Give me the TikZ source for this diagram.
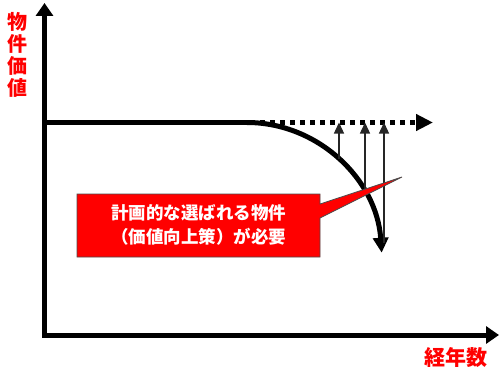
\documentclass[tikz,border=0pt]{standalone}
\usepackage{fontspec}
\newfontfamily\cjk{Noto Sans CJK JP}
\usetikzlibrary{arrows.meta}
\definecolor{calloutred}{HTML}{FF0000}
\tikzset{
  axis/.style={line width=5, -{Triangle[width=17,length=13]}},
  thick line/.style={line width=5},
  thin arrow/.style={line width=1.3, black!85, -{Triangle[width=10,length=11]}},
  label red/.style={text=calloutred, font=\cjk\bfseries},
}
\begin{document}
\begin{tikzpicture}[x=1pt,y=-1pt]
\useasboundingbox (0,0) rectangle (500,369);
% coordinates
\coordinate (o) at (44.5,335);
\coordinate (ytop) at (44.5,3);
\coordinate (xend) at (499,335);
\coordinate (p0) at (42,122.5);
\coordinate (p1) at (247,122.5);
\coordinate (dend) at (433,122.5);
% axes
\draw[axis] (44.5,337.5) -- (ytop);
\draw[axis] (42,335) -- (xend);
% plateau
\draw[thick line] (p0) -- (p1);
\draw[line width=5, dash pattern=on 5 off 5, -{Triangle[width=16,length=17]}] (250,122.5) -- (dend);
% curve (quarter ellipse, centre (247,262.5))
\draw[line width=5, -{Triangle[width=15,length=15]}] (p1) arc[start angle=90, end angle=4, x radius=135, y radius=-140];
% thin arrows
\coordinate (a1) at (339,159);
\coordinate (a2) at (365,192);
\coordinate (a3) at (384,243);
\draw[thin arrow] (a1) -- (339,122.5);
\draw[thin arrow] (a2) -- (365,122.5);
\draw[thin arrow] (a3) -- (384,122.5);
% callout
\draw[fill=calloutred, draw=black!70, line width=0.8]
  (77,194) -- (320,194) -- (320,204) -- (402,177) -- (320,218) -- (320,257) -- (77,257) -- cycle;
\node[text=white, font=\cjk\bfseries\fontsize{17.5}{24}\selectfont, align=center] (note) at (198.5,225)
  {計画的な選ばれる物件\\（価値向上策）が必要};
% axis labels
\node[label red, font=\cjk\bfseries\fontsize{20}{22}\selectfont, align=center, inner sep=0] (ylab) at (17,54.5)
  {物\\件\\価\\値};
\node[label red, font=\cjk\bfseries\fontsize{21}{22}\selectfont, inner sep=0] (xlab) at (456,358) {経年数};
\end{tikzpicture}
\end{document}
